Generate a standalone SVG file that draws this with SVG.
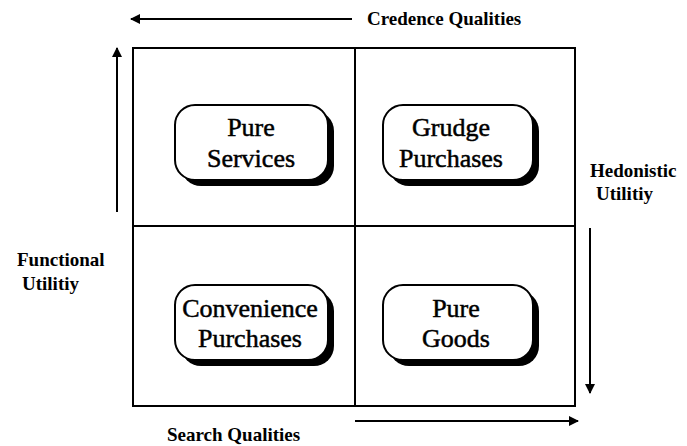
<svg xmlns="http://www.w3.org/2000/svg" width="687" height="446" viewBox="0 0 687 446">
<style>
.grid{fill:none;stroke:#000;stroke-width:2}
.ax{stroke:#000;stroke-width:2;fill:none}
.lbl{font-family:"Liberation Serif","Times New Roman",serif;font-weight:bold;font-size:19px;fill:#000}
.bx{fill:#fff;stroke:#000;stroke-width:2}
.sh{fill:#000}
.bt{font-family:"Liberation Serif","Times New Roman",serif;font-size:26px;fill:#000;stroke:#000;stroke-width:0.5;text-anchor:middle}
</style>
<defs>
<marker id="ah" viewBox="0 0 10 10" refX="9" refY="5" markerWidth="5" markerHeight="5" orient="auto" markerUnits="strokeWidth">
<path d="M0,0 L10,5 L0,10 z" fill="#000"/>
</marker>
</defs>
<rect width="687" height="446" fill="#fff"/>
<g id="grid">
<rect class="grid" x="133" y="48" width="442" height="358"/>
<line class="grid" x1="355" y1="48" x2="355" y2="406"/>
<line class="grid" x1="133" y1="226" x2="575" y2="226"/>
</g>
<g id="connectors">
<line class="ax" x1="352" y1="19" x2="131" y2="19" marker-end="url(#ah)"/>
<line class="ax" x1="117" y1="212" x2="117" y2="48" marker-end="url(#ah)"/>
<line class="ax" x1="590" y1="228" x2="590" y2="393" marker-end="url(#ah)"/>
<line class="ax" x1="355" y1="421" x2="578" y2="421" marker-end="url(#ah)"/>
</g>
<g id="axis-labels">
<text class="lbl" x="367" y="25">Credence Qualities</text>
<text class="lbl" x="167" y="441">Search Qualities</text>
<text class="lbl" x="17" y="266">Functional</text>
<text class="lbl" x="22" y="290">Utilitiy</text>
<text class="lbl" x="590" y="177">Hedonistic</text>
<text class="lbl" x="596" y="200">Utilitiy</text>
</g>
<g id="pure-services">
<rect class="sh" x="181" y="111" width="153" height="75" rx="20"/>
<rect class="bx" x="175" y="105" width="153" height="75" rx="20"/>
<text class="bt" x="251" y="136">Pure</text>
<text class="bt" x="251" y="167">Services</text>
</g>
<g id="grudge-purchases">
<rect class="sh" x="389" y="111" width="150" height="75" rx="20"/>
<rect class="bx" x="383" y="105" width="150" height="75" rx="20"/>
<text class="bt" x="451" y="136">Grudge</text>
<text class="bt" x="451" y="167">Purchases</text>
</g>
<g id="convenience-purchases">
<rect class="sh" x="181" y="291" width="153" height="75" rx="20"/>
<rect class="bx" x="175" y="285" width="153" height="75" rx="20"/>
<text class="bt" x="250" y="317">Convenience</text>
<text class="bt" x="250" y="347">Purchases</text>
</g>
<g id="pure-goods">
<rect class="sh" x="389" y="291" width="150" height="75" rx="20"/>
<rect class="bx" x="383" y="285" width="150" height="75" rx="20"/>
<text class="bt" x="456" y="317">Pure</text>
<text class="bt" x="456" y="347">Goods</text>
</g>
</svg>
